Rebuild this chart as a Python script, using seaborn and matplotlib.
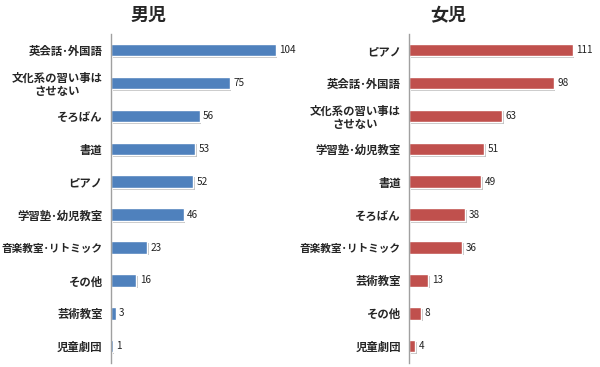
import pandas as pd
import seaborn as sns
import matplotlib
matplotlib.use('Agg')
import matplotlib.pyplot as plt
import matplotlib.patheffects as pe

# 男児のデータ
boy_labels = ['英会話･外国語', '文化系の習い事は\nさせない', 'そろばん', '書道', 'ピアノ',
              '学習塾･幼児教室', '音楽教室･リトミック', 'その他', '芸術教室', '児童劇団']
boy_values = [104, 75, 56, 53, 52, 46, 23, 16, 3, 1]

# 女児のデータ
girl_labels = ['ピアノ', '英会話･外国語', '文化系の習い事は\nさせない', '学習塾･幼児教室', '書道',
               'そろばん', '音楽教室･リトミック', '芸術教室', 'その他', '児童劇団']
girl_values = [111, 98, 63, 51, 49, 38, 36, 13, 8, 4]

sns.set_theme(style='white')
plt.rcParams['font.family'] = ['Noto Sans CJK JP', 'DejaVu Sans']

fig = plt.figure(figsize=(6, 3.67), dpi=100)
ax1 = fig.add_axes([0.185, 0.012, 0.298, 0.896])
ax2 = fig.add_axes([0.682, 0.012, 0.302, 0.896])


def draw_panel(ax, labels, values, color, xmax, title, title_x):
    df = pd.DataFrame({'label': labels, 'value': values})
    sns.barplot(data=df, x='value', y='label', orient='h', color=color,
                width=0.38, saturation=1, ax=ax)
    for p in ax.patches:
        p.set_path_effects([pe.SimplePatchShadow(offset=(1.2, -1.2), shadow_rgbFace='#9a9a9a', alpha=0.6),
                            pe.Stroke(linewidth=1.2, foreground='white'), pe.Normal()])
    ax.bar_label(ax.containers[0], padding=2.5, fontsize=7.2, color='#222222')
    ax.set_xlim(0, xmax)
    ax.set_ylim(9.5, -0.5)
    ax.set_xlabel('')
    ax.set_ylabel('')
    ax.set_xticks([])
    ax.tick_params(axis='y', length=0, pad=6, labelsize=8.2)
    for t in ax.get_yticklabels():
        t.set_fontweight('bold')
        t.set_multialignment('center')
        t.set_linespacing(1.05)
        # 長いラベルは少し小さくして収める
        if '\n' not in t.get_text() and len(t.get_text()) > 9:
            t.set_fontsize(7.7)
    for s in ['top', 'right', 'bottom']:
        ax.spines[s].set_visible(False)
    ax.spines['left'].set_color('#a0a0a0')
    ax.spines['left'].set_linewidth(1)
    fig.text(title_x, 0.958, title, ha='center', va='center', fontsize=13, fontweight='bold')


draw_panel(ax1, boy_labels, boy_values, '#4F81BD', 113, '男児', 149 / 600)
draw_panel(ax2, girl_labels, girl_values, '#C0504D', 123, '女児', 448 / 600)

fig.savefig('out.png', dpi=100)
